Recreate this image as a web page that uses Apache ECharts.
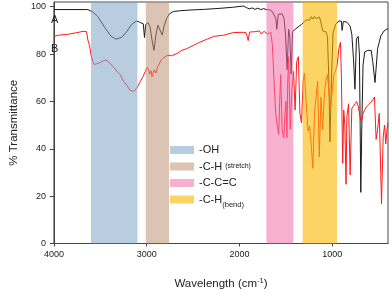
<!DOCTYPE html>
<html><head><meta charset="utf-8">
<script src="https://cdn.jsdelivr.net/npm/echarts@6/dist/echarts.min.js"></script>
<style>html,body{margin:0;padding:0;background:#fff}#c{width:392px;height:295px}</style>
</head><body><div id="c"></div>
<script>
var xTicks = [1000, 2000, 3000, 4000];
var yTicks = [0, 20, 40, 60, 80, 100];
var bandNames = ['-OH', '-C-H (stretch)', '-C-C=C', '-C-H(bend)'];
var bandRanges = [[3100, 3600], [2760, 3010], [1420, 1710], [950, 1320]];
var wnA = [4000,3634,3581,3529,3445,3383,3330,3268,3215,3163,3111,3079,3058,3037,3024,3011,2985,2964,2943,2922,2901,2880,2859,2833,2812,2786,2755,2713,2640,2535,2378,2221,2064,1960,1928,1897,1865,1834,1803,1771,1740,1708,1677,1646,1625,1609,1598,1583,1562,1541,1520,1504,1487,1471,1457,1444,1428,1405,1384,1358,1332,1297,1269,1245,1227,1211,1192,1175,1154,1138,1122,1104,1091,1070,1052,1038,1025,1009,992,965,930,902,895,881,843,808,790,772,756,740,721,708,700,693,682,669,651,617,599,581,564,540,512,477,442,411,400];
var tA = [98.8,98.8,97.8,95.9,90.8,87.5,86.3,87.1,89.5,92.5,94.0,93.5,94.0,92.8,87.0,92.5,93.2,91.5,86.0,81.6,88.0,92.2,91.5,88.0,92.0,95.0,97.0,98.0,98.3,98.6,98.9,99.3,99.8,100.3,99.7,99.1,99.5,98.9,99.4,98.8,99.2,98.8,98.7,98.0,97.6,95.0,90.5,96.8,97.3,97.0,95.0,88.0,73.4,90.5,87.0,71.5,89.5,90.3,90.5,91.8,92.5,93.9,94.5,94.3,95.8,94.8,95.9,95.0,95.5,95.6,93.2,89.8,90.5,89.5,87.5,70.0,43.0,70.0,89.0,92.5,94.0,93.9,90.0,93.8,93.5,91.8,88.4,78.0,65.2,86.4,87.5,80.0,50.0,21.6,50.0,75.4,80.9,81.6,80.9,81.5,76.8,68.0,82.3,87.7,89.8,90.6,90.7];
var wnB = [4000,3948,3843,3759,3686,3665,3649,3634,3616,3599,3581,3566,3550,3529,3498,3466,3440,3414,3383,3351,3320,3285,3250,3215,3180,3152,3128,3093,3069,3040,3016,2995,2980,2969,2953,2943,2919,2901,2880,2859,2843,2815,2779,2734,2674,2622,2569,2500,2430,2344,2273,2169,2064,1960,1928,1907,1892,1821,1786,1767,1750,1735,1719,1698,1663,1646,1628,1611,1593,1578,1567,1556,1541,1523,1510,1499,1489,1481,1471,1453,1436,1418,1401,1384,1366,1349,1332,1314,1301,1280,1262,1245,1227,1210,1192,1175,1158,1141,1122,1104,1087,1070,1052,1035,1018,1000,984,965,948,930,912,902,888,877,865,852,843,825,808,790,773,756,738,721,704,687,669,651,633,599,567,546,528,512,494,470,452,437,424,411,400];
var tB = [87.5,88.0,88.4,89.0,89.6,90.2,89.5,86.0,83.5,79.5,76.8,75.6,75.8,76.0,76.5,77.2,77.5,76.8,75.5,74.3,72.7,71.3,68.5,66.8,64.8,64.3,64.6,66.6,68.5,70.5,72.6,74.4,73.5,71.5,73.0,70.4,73.4,72.0,74.8,75.5,77.5,78.5,79.5,79.3,80.2,81.6,82.3,83.6,85.0,86.4,87.5,88.0,89.1,89.2,89.0,85.7,89.3,89.5,89.8,88.5,87.8,89.6,89.8,88.5,89.1,84.0,68.6,55.0,49.5,46.0,60.0,71.3,48.3,44.5,55.0,60.0,44.7,67.3,78.9,48.2,64.5,72.7,56.4,76.8,78.9,55.0,50.9,68.6,72.0,59.0,47.5,49.5,41.3,31.8,55.0,61.8,68.6,36.6,61.8,48.0,61.8,68.6,71.3,63.0,58.0,65.0,71.3,73.0,75.4,82.3,85.0,70.0,33.9,56.4,50.0,25.0,53.6,59.0,29.0,57.0,58.0,59.0,60.0,58.0,54.0,51.5,55.0,56.5,57.7,59.0,60.5,61.8,44.0,48.2,55.0,16.8,45.0,50.0,42.0,48.0,51.0];
var bandColors = ['rgba(126,164,198,0.55)', 'rgba(191,148,118,0.55)', 'rgba(242,111,170,0.55)', 'rgba(250,184,0,0.6)'];

function pairs(xs, ys) { return xs.map(function (x, i) { return [x, ys[i]]; }); }

var series = [
  { name: 'A', type: 'line', data: pairs(wnA, tA), showSymbol: false, z: 2,
    lineStyle: { color: '#1a1a1a', width: 1 }, itemStyle: { color: '#1a1a1a' }, animation: false },
  { name: 'B', type: 'line', data: pairs(wnB, tB), showSymbol: false, z: 2,
    lineStyle: { color: '#ff1a1a', width: 1 }, itemStyle: { color: '#ff1a1a' }, animation: false }
];
bandNames.forEach(function (n, i) {
  series.push({
    name: n, type: 'line', data: [], z: 4,
    itemStyle: { color: bandColors[i] }, lineStyle: { color: bandColors[i] },
    markArea: { silent: true, z: 5, itemStyle: { color: bandColors[i] },
      data: [[{ xAxis: bandRanges[i][0], yAxis: 0 }, { xAxis: bandRanges[i][1], yAxis: 102 }]] },
    animation: false
  });
});

var chart = echarts.init(document.getElementById('c'));
chart.setOption({
  animation: false,
  textStyle: { fontFamily: 'Liberation Sans, Arial, sans-serif' },
  grid: { left: 45, right: 4, top: 2, bottom: 44, show: true, borderColor: '#444', borderWidth: 1 },
  xAxis: {
    type: 'value', min: 400, max: 4000, inverse: true,
    name: 'Wavelength (cm{sup|-1})', nameLocation: 'middle', nameGap: 33,
    nameTextStyle: { fontSize: 11.5, color: '#222', rich: { sup: { fontSize: 7.5, verticalAlign: 'top', padding: [0, 0, 7, 0], color: '#222' } } },
    axisLine: { lineStyle: { color: '#444' } },
    axisTick: { show: true, length: 3, lineStyle: { color: '#444' }, customValues: xTicks },
    axisLabel: { fontSize: 9, color: '#222', margin: 7, customValues: xTicks, formatter: function (v) { return String(v); } },
    splitLine: { show: false }
  },
  yAxis: {
    type: 'value', min: 0, max: 102,
    name: '% Transmittance', nameLocation: 'middle', nameGap: 33,
    nameTextStyle: { fontSize: 11.5, color: '#222' },
    axisLine: { show: true, lineStyle: { color: '#444' } },
    axisTick: { show: true, length: 4, lineStyle: { color: '#444' }, customValues: yTicks },
    axisLabel: { fontSize: 9, color: '#222', margin: 8, customValues: yTicks, formatter: function (v) { return String(v); } },
    splitLine: { show: false }
  },
  legend: {
    data: bandNames.map(function (n) { return { name: n, icon: 'rect' }; }),
    orient: 'vertical', left: 170, top: 143, padding: 0, itemWidth: 24, itemHeight: 8, itemGap: 2.5,
    selectedMode: false,
    formatter: function (name) {
      if (name === '-C-H (stretch)') return '{m|-C-H} {s|(stretch)}';
      if (name === '-C-H(bend)') return '{m|-C-H}{b|(bend)}';
      return '{m|' + name + '}';
    },
    textStyle: { color: '#222', fontSize: 11, lineHeight: 14,
      rich: { m: { fontSize: 11, color: '#222', lineHeight: 14 },
              s: { fontSize: 7, color: '#222', lineHeight: 14 },
              b: { fontSize: 7.5, color: '#222', lineHeight: 14, verticalAlign: 'bottom', padding: [0, 0, -2, 0] } } }
  },
  graphic: [
    { type: 'text', left: 51, top: 14, z: 10, style: { text: 'A', fontSize: 11, fill: '#222', fontFamily: 'Liberation Sans, Arial, sans-serif' } },
    { type: 'text', left: 51, top: 43, z: 10, style: { text: 'B', fontSize: 11, fill: '#222', fontFamily: 'Liberation Sans, Arial, sans-serif' } }
  ],
  series: series
});
</script></body></html>
